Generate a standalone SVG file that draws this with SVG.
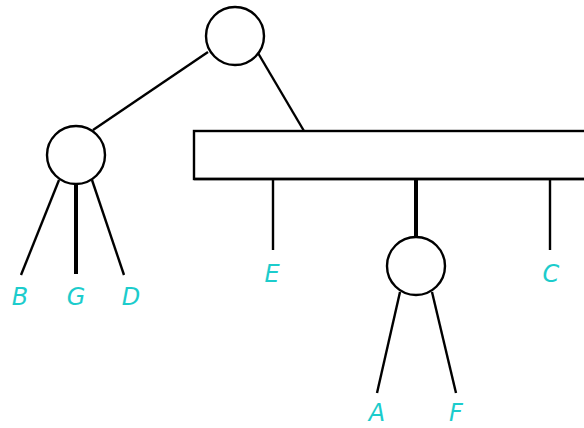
<svg xmlns="http://www.w3.org/2000/svg" width="584" height="428" viewBox="0 0 584 428">
  <style>
    .edge { stroke: #000; stroke-width: 2.4; fill: none; }
    .bold { stroke-width: 4; }
    .node { fill: #fff; stroke: #000; stroke-width: 2.4; }
    .lbl { font-family: "DejaVu Sans", "Liberation Sans", sans-serif; font-style: italic; font-size: 24px; fill: #1ccccc; text-anchor: middle; }
  </style>
  <rect width="584" height="428" fill="#fff"/>
  <g id="connectors">
    <line class="edge" x1="208" y1="52" x2="93" y2="130"/>
    <line class="edge" x1="258" y1="53" x2="304" y2="131"/>
    <line class="edge" x1="59" y1="180" x2="21" y2="275"/>
    <line class="edge bold" x1="76" y1="183" x2="76" y2="274"/>
    <line class="edge" x1="92" y1="180" x2="124" y2="275"/>
    <line class="edge" x1="273" y1="180" x2="273" y2="250"/>
    <line class="edge bold" x1="416" y1="180" x2="416" y2="237"/>
    <line class="edge" x1="550" y1="180" x2="550" y2="250"/>
    <line class="edge" x1="400" y1="292" x2="377" y2="393"/>
    <line class="edge" x1="432" y1="292" x2="456" y2="393"/>
  </g>
  <g id="root"><circle class="node" cx="235" cy="36" r="29"/></g>
  <g id="left"><circle class="node" cx="76" cy="155" r="29"/></g>
  <g id="bar">
    <rect class="node" x="194" y="131" width="400" height="48"/>
    <line class="edge" x1="194" y1="179" x2="584" y2="179" stroke-width="3.5"/>
  </g>
  <g id="mid"><circle class="node" cx="416" cy="266" r="29"/></g>
  <g id="labels">
    <text class="lbl" x="20" y="305">B</text>
    <text class="lbl" x="76" y="305">G</text>
    <text class="lbl" x="131" y="305">D</text>
    <text class="lbl" x="272" y="282">E</text>
    <text class="lbl" x="551" y="282">C</text>
    <text class="lbl" x="377" y="421">A</text>
    <text class="lbl" x="456" y="421">F</text>
  </g>
</svg>
